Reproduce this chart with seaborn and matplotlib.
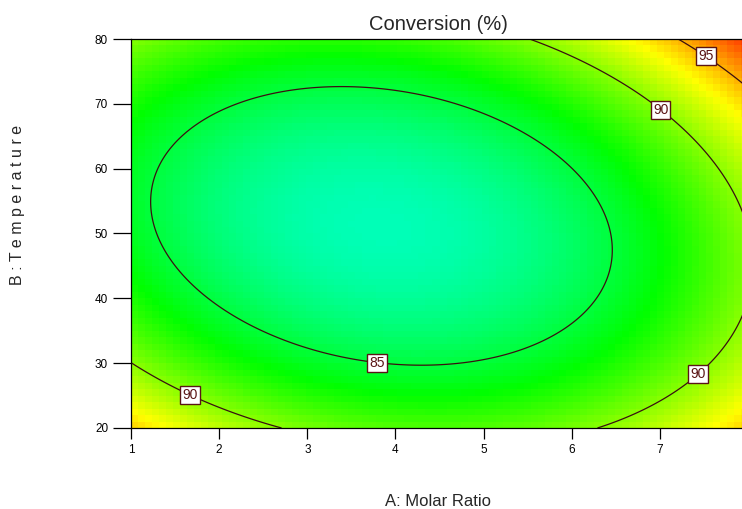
import numpy as np
import matplotlib
matplotlib.use("Agg")
import matplotlib.pyplot as plt
from matplotlib.colors import LinearSegmentedColormap
import seaborn as sns

# Factor ranges (actual units)
molar_ratio_range = [1.0, 8.0]
temperature_range = [20.0, 80.0]

# Fitted quadratic model in coded factors: Intercept, A, B, AB, A^2, B^2
model_coefs = [82.05, 2.1, -0.1, 2.1, 5.8, 6.33]

contour_levels = [85, 90, 95]
label_positions = [(3.80, 31.1), (1.69, 25.6), (7.06, 70.0), (7.40, 28.8), (7.57, 78.3)]

x_ticks = [1, 2, 3, 4, 5, 6, 7]
y_ticks = [20, 30, 40, 50, 60, 70, 80]

# Response values at which the colour ramp passes cyan, green, yellow, red
color_stops = [80.0, 86.5, 93.0, 99.5]
color_names = ["#00ffff", "#00ff00", "#ffff00", "#ff0000"]


def conversion(A, B):
    a = (A - np.mean(molar_ratio_range)) / (np.diff(molar_ratio_range)[0] / 2)
    b = (B - np.mean(temperature_range)) / (np.diff(temperature_range)[0] / 2)
    c0, cA, cB, cAB, cAA, cBB = model_coefs
    return c0 + cA * a + cB * b + cAB * a * b + cAA * a ** 2 + cBB * b ** 2


sns.set_theme(style="ticks")
plt.rcParams["font.family"] = ["Liberation Sans", "DejaVu Sans"]

fig = plt.figure(figsize=(7.42, 5.09), dpi=100)
ax = fig.add_axes([131 / 742, 1 - 428 / 509, 617 / 742, 389 / 509])

# Blocky shaded surface
xe = np.linspace(*molar_ratio_range, 89)
ye = np.linspace(*temperature_range, 61)
xc = 0.5 * (xe[:-1] + xe[1:])
yc = 0.5 * (ye[:-1] + ye[1:])
Zc = conversion(*np.meshgrid(xc, yc))

lo, hi = color_stops[0], color_stops[-1]
cmap = LinearSegmentedColormap.from_list(
    "response", [((v - lo) / (hi - lo), c) for v, c in zip(color_stops, color_names)])
ax.pcolormesh(xe, ye, Zc, cmap=cmap, vmin=lo, vmax=hi, shading="flat", rasterized=True)

# Contour lines from a fine grid
xf = np.linspace(*molar_ratio_range, 400)
yf = np.linspace(*temperature_range, 400)
Xf, Yf = np.meshgrid(xf, yf)
cs = ax.contour(Xf, Yf, conversion(Xf, Yf), levels=contour_levels,
                colors="#3a1010", linewidths=0.9)
texts = ax.clabel(cs, inline=False, manual=label_positions, fmt="%d",
                  fontsize=10, colors="#5a1515")
for t in texts:
    t.set_rotation(0)
    t.set_bbox(dict(boxstyle="square,pad=0.15", fc="white", ec="#5a1515", lw=1.0))

ax.set_xlim(*molar_ratio_range)
ax.set_ylim(*temperature_range)
ax.set_xticks(x_ticks)
ax.set_yticks(y_ticks)
ax.tick_params(axis="y", length=13, width=0.9, labelsize=8.5, pad=3.5, colors="black")
ax.tick_params(axis="x", length=8, width=0.9, labelsize=8.5, pad=3.5, colors="black")
for side in ["left", "top", "bottom", "right"]:
    ax.spines[side].set_color("black")
    ax.spines[side].set_linewidth(0.9)
ax.set_xlabel("")
ax.set_ylabel("")

fig.text(438 / 742, 1 - 24 / 509, "Conversion (%)", ha="center", va="center", fontsize=14.5)
fig.text(438 / 742, 1 - 501 / 509, "A: Molar Ratio", ha="center", va="center", fontsize=12)
fig.text(18 / 742, 1 - 205 / 509, "B : T e m p e r a t u r e", ha="center", va="center",
         rotation=90, fontsize=11.5)

fig.savefig("out.png", dpi=100)
